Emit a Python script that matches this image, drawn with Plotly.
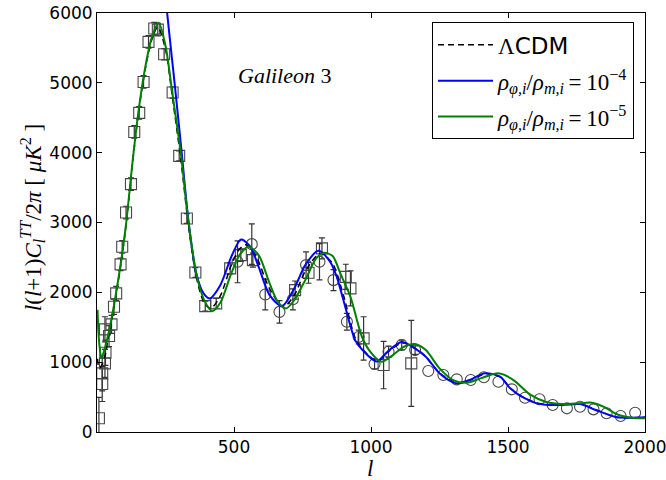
import plotly.graph_objects as go

# ---------------- data ----------------
# LCDM (dashed black)
lcdm_l = [2, 5, 10, 20, 30, 40, 50, 70, 90, 107, 130, 150, 175, 200, 222, 250, 275, 306, 334, 362,
          390, 415, 450, 490, 520, 545, 580, 630, 680, 720, 760, 815, 860, 900, 942, 970, 1025,
          1060, 1115, 1160, 1200, 1250, 1319, 1360, 1420, 1471, 1508, 1550, 1605, 1650, 1700,
          1765, 1820, 1897, 1950, 2000]
lcdm_d = [1050, 950, 920, 980, 1100, 1330, 1520, 1980, 2480, 2990, 3860, 4530, 5170, 5620, 5800,
          5480, 4800, 3900, 2950, 2230, 1860, 1770, 1950, 2390, 2620, 2680, 2520, 2050, 1790,
          1960, 2300, 2560, 2410, 1950, 1350, 1180, 1010, 1140, 1275, 1200, 1080, 845, 700, 740,
          835, 790, 630, 510, 415, 390, 390, 400, 320, 212, 205, 208]

# rho_phi/rho_m = 1e-4 (blue)
blue_l = [230, 245, 255, 270, 286, 310, 334, 362, 389, 411, 450, 490, 520, 529, 560, 590, 630,
          675, 720, 760, 808, 851, 875, 900, 942, 970, 1021, 1060, 1112, 1160, 1200, 1250, 1300,
          1319, 1360, 1416, 1471, 1508, 1550, 1605, 1650, 1700, 1764, 1820, 1897, 1950, 2000]
blue_d = [7000, 6450, 6040, 5480, 4893, 3964, 3010, 2275, 1985, 1913, 2103, 2509, 2740, 2757,
          2652, 2366, 1960, 1803, 2056, 2390, 2595, 2437, 2222, 1880, 1316, 1170, 1010, 1150,
          1290, 1197, 1078, 840, 710, 697, 744, 840, 792, 625, 505, 410, 386, 388, 400, 315, 210,
          205, 210]

# rho_phi/rho_m = 1e-5 (green)
green_l = [2, 5, 10, 16, 25, 40, 50, 70, 90, 107, 130, 150, 175, 200, 225, 250, 275, 306, 334,
           362, 390, 420, 450, 490, 520, 553, 590, 630, 660, 690, 720, 760, 800, 829, 860, 888,
           925, 967, 997, 1037, 1080, 1120, 1161, 1200, 1250, 1300, 1350, 1400, 1465, 1520, 1580,
           1640, 1700, 1760, 1806, 1850, 1900, 1950, 2000]
green_d = [1750, 1450, 1200, 1060, 1150, 1380, 1560, 2000, 2500, 3010, 3880, 4550, 5200, 5650,
           5860, 5530, 4850, 3990, 3010, 2275, 1900, 1730, 1850, 2271, 2533, 2652, 2533, 2128,
           1865, 1770, 1889, 2175, 2485, 2566, 2520, 2271, 1936, 1364, 1150, 1006, 1102, 1221,
           1260, 1173, 912, 744, 706, 768, 840, 744, 540, 430, 400, 410, 420, 360, 250, 205, 196]

# square data points (with error bars)
sq_l = [7, 19, 19, 29, 31, 29, 44, 53, 62, 70, 86, 92, 106, 124, 136, 154, 170, 188, 209, 222,
        245, 276, 300, 328, 359, 395, 435, 486, 525, 569, 723, 772, 821, 908, 925, 973, 1046, 1147]
sq_d = [196, 687, 840, 983, 1135, 1470, 1374, 1541, 1793, 1985, 2400, 2652, 3143, 3549, 4297,
        4570, 5013, 5586, 5777, 5762, 5410, 4861, 3954, 3058, 2285, 1803, 1842, 2343, 2533, 2461,
        2032, 2280, 2629, 2222, 2056, 1340, 959, 983]
sq_e = [300, 250, 250, 200, 180, 180, 150, 130, 110, 100, 90, 90, 90, 90, 90, 90, 90, 90, 90, 90,
        80, 80, 70, 70, 70, 70, 70, 80, 90, 100, 130, 150, 150, 180, 250, 310, 340, 615]

# circle data points (error bars only visible where larger than the marker)
ci_l = [513, 565, 614, 666, 715, 763, 812, 863, 912, 955, 1013, 1064, 1112, 1161, 1209, 1264,
        1313, 1364, 1412, 1465, 1514, 1562, 1615, 1663, 1715, 1763, 1812, 1860, 1911, 1964]
ci_d = [2437, 2690, 1970, 1720, 1900, 2390, 2437, 2175, 1579, 1360, 973, 1150, 1245, 1173, 873,
        816, 754, 744, 783, 720, 611, 491, 468, 386, 339, 362, 324, 268, 229, 276]
ci_e = [300, 290, 220, 160, 150, 190, 260, 150, 120, 100, 70, 80, 70, 60, 0, 0, 0, 0, 0, 0,
        0, 0, 0, 0, 0, 0, 0, 0, 0, 0]

# ---------------- figure ----------------
MARK = "#474747"
ERRC = "#333333"
fig = go.Figure()

fig.add_trace(go.Scatter(
    x=sq_l, y=sq_d, mode="markers", showlegend=False,
    marker=dict(symbol="square-open", size=11, color=MARK, line=dict(width=1.1, color=MARK)),
    error_y=dict(type="data", array=sq_e, visible=True, color=ERRC, thickness=1.2, width=3),
))

# circle error bars (only points that have one)
idx = [i for i, e in enumerate(ci_e) if e > 0]
fig.add_trace(go.Scatter(
    x=[ci_l[i] for i in idx], y=[ci_d[i] for i in idx], mode="markers", showlegend=False,
    marker=dict(size=1, opacity=0),
    error_y=dict(type="data", array=[ci_e[i] for i in idx], visible=True,
                 color=ERRC, thickness=1.2, width=3),
    hoverinfo="skip",
))
fig.add_trace(go.Scatter(
    x=ci_l, y=ci_d, mode="markers", showlegend=False,
    marker=dict(symbol="circle-open", size=11, color=MARK, line=dict(width=1.1, color=MARK)),
))

EQ = "\u2009=\u2009"
fig.add_trace(go.Scatter(
    x=lcdm_l, y=lcdm_d, mode="lines", legendgroup="a",
    name="Λ<span style='font-family:DejaVu Sans'>CDM</span>",
    line=dict(color="black", width=1.5, dash="6px,4px", shape="spline", smoothing=0.8),
))
fig.add_trace(go.Scatter(
    x=blue_l, y=blue_d, mode="lines", legendgroup="b",
    name="<i>ρ</i><sub><i>φ,i</i></sub>/<i>ρ</i><sub><i>m,i</i></sub>" + EQ + "10<sup>−4</sup>",
    line=dict(color="#0000ff", width=2, shape="spline", smoothing=0.8),
))
fig.add_trace(go.Scatter(
    x=green_l, y=green_d, mode="lines", legendgroup="c",
    name="<i>ρ</i><sub><i>φ,i</i></sub>/<i>ρ</i><sub><i>m,i</i></sub>" + EQ + "10<sup>−5</sup>",
    line=dict(color="#008000", width=2, shape="spline", smoothing=0.8),
))

tickfont = dict(family="DejaVu Sans", size=17, color="black")
axis_common = dict(
    showline=True, linecolor="black", linewidth=1, mirror="allticks",
    ticks="inside", ticklen=5, tickcolor="black", tickwidth=1,
    showgrid=False, zeroline=False, tickfont=tickfont, automargin=False,
    ticklabeloverflow="allow",
)

fig.update_layout(
    width=666, height=480,
    margin=dict(l=97, r=21, t=13, b=48),
    paper_bgcolor="white", plot_bgcolor="white",
    xaxis=dict(range=[0, 2000], tickvals=[500, 1000, 1500, 2000], **axis_common),
    yaxis=dict(range=[0, 6000], tickvals=[0, 1000, 2000, 3000, 4000, 5000, 6000], **axis_common),
    legend=dict(
        x=(634 - 97) / 548, y=(432 - 22) / 419.3, xanchor="right", yanchor="top",
        bgcolor="white", bordercolor="black", borderwidth=1,
        font=dict(family="Liberation Serif", size=23, color="black"),
        tracegroupgap=3, itemwidth=55,
    ),
    annotations=[
        dict(text="<i>Galileon</i> 3", x=(285 - 97) / 548, y=(432 - 75) / 419.3,
             xref="paper", yref="paper", showarrow=False, xanchor="center", yanchor="middle",
             font=dict(family="Liberation Serif", size=22, color="black")),
        dict(text="<i>l</i>(<i>l</i>+1)<i>C</i><sub><i>l</i></sub><sup><i>TT</i></sup>/2<i>π</i> [ <i>μK</i><sup>2</sup> ]",
             x=(32 - 97) / 548, y=(432 - 218) / 419.3, xref="paper", yref="paper", textangle=-90,
             xanchor="center", yanchor="middle",
             showarrow=False, font=dict(family="Liberation Serif", size=23, color="black")),
        dict(text="<i>l</i>", x=(370 - 97) / 548, y=(432 - 469) / 419.3,
             xref="paper", yref="paper", showarrow=False, xanchor="center", yanchor="middle",
             font=dict(family="Liberation Serif", size=23, color="black")),
    ],
)

fig.write_html("out.html")
